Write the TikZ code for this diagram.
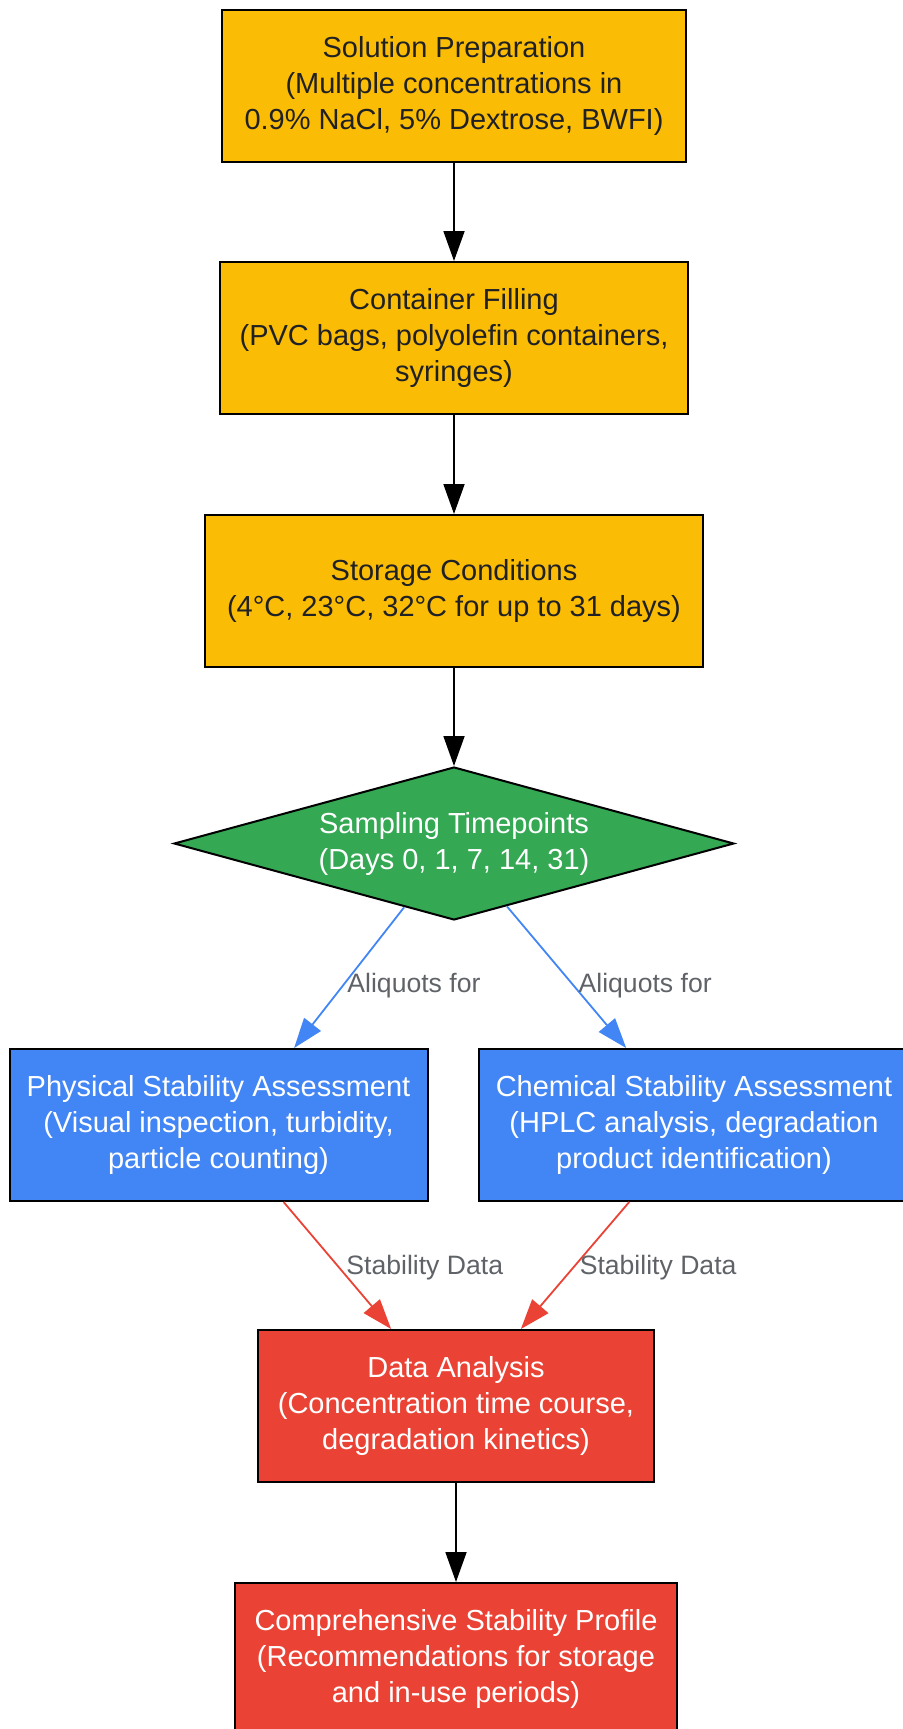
\documentclass[tikz,border=0pt]{standalone}
\usepackage{fontspec}
\setmainfont{Liberation Sans}
\usetikzlibrary{positioning, shapes.geometric, arrows.meta, calc}
\definecolor{gyellow}{HTML}{FBBC05}
\definecolor{ggreen}{HTML}{34A853}
\definecolor{gblue}{HTML}{4285F4}
\definecolor{gred}{HTML}{EA4335}
\definecolor{ginkdark}{HTML}{202124}
\definecolor{glabel}{HTML}{5F6368}

\begin{document}
\begin{tikzpicture}[
        every node/.style={
            align=center,
            font=\fontsize{14.5}{18}\selectfont,
            inner sep=2pt
        },
        stage/.style={draw=black, line width=1pt, minimum height=76pt, fill=gyellow, text=ginkdark},
        decide/.style={diamond, draw=black, line width=1pt, fill=ggreen, text=white,
            aspect=3.63, minimum width=280pt, minimum height=76.5pt, inner sep=0pt},
        assess/.style={draw=black, line width=1pt, minimum height=76pt, fill=gblue, text=white},
        result/.style={draw=black, line width=1pt, minimum height=76pt, fill=gred, text=white},
        flow/.style={-{Triangle[length=15pt, width=10.5pt]}, line width=0.9pt},
        lbl/.style={font=\fontsize{13.3}{16}\selectfont, text=glabel, anchor=west, inner sep=2pt}
      ]
        \useasboundingbox (0,0) rectangle (451pt,-864.5pt);

        % preparation chain
        \node[stage, minimum width=232pt] (sol) at (227pt,-43pt)
            {Solution Preparation\\(Multiple concentrations in\\0.9\% NaCl, 5\% Dextrose, BWFI)};
        \node[stage, minimum width=234pt, below=49pt of sol] (fill)
            {Container Filling\\(PVC bags, polyolefin containers,\\syringes)};
        \node[stage, minimum width=249pt, below=49.5pt of fill] (stor)
            {Storage Conditions\\(4°C, 23°C, 32°C for up to 31 days)};
        \node[decide, below=49pt of stor] (samp)
            {Sampling Timepoints\\(Days 0, 1, 7, 14, 31)};

        % assessments
        \node[assess, minimum width=209pt, below=63.5pt of samp, xshift=-117.75pt] (phys)
            {Physical Stability Assessment\\(Visual inspection, turbidity,\\particle counting)};
        \node[assess, minimum width=215pt, below=63.5pt of samp, xshift=120pt] (chem)
            {Chemical Stability Assessment\\(HPLC analysis, degradation\\product identification)};

        % results
        \node[result, minimum width=198pt, below=63.5pt of phys, xshift=118.75pt] (data)
            {Data Analysis\\(Concentration time course,\\degradation kinetics)};
        \node[result, minimum width=221pt, below=49.5pt of data] (prof)
            {Comprehensive Stability Profile\\(Recommendations for storage\\and in-use periods)};

        \draw[flow] (sol) -- (fill);
        \draw[flow] (fill) -- (stor);
        \draw[flow] (stor) -- (samp);
        \draw[flow, gblue] (samp) -- ($(phys.north west)!0.68!(phys.north east)$)
            node[lbl, pos=0.56] {Aliquots for};
        \draw[flow, gblue] (samp) -- ($(chem.north west)!0.343!(chem.north east)$)
            node[lbl, pos=0.56] {Aliquots for};
        \draw[flow, gred] ($(phys.south west)!0.655!(phys.south east)$) -- ($(data.north west)!0.337!(data.north east)$)
            node[lbl, pos=0.52, inner sep=3pt] {Stability Data};
        \draw[flow, gred] ($(chem.south west)!0.35!(chem.south east)$) -- ($(data.north west)!0.663!(data.north east)$)
            node[lbl, pos=0.52, inner sep=3pt] {Stability Data};
        \draw[flow] (data) -- (prof);
      \end{tikzpicture}
\end{document}
